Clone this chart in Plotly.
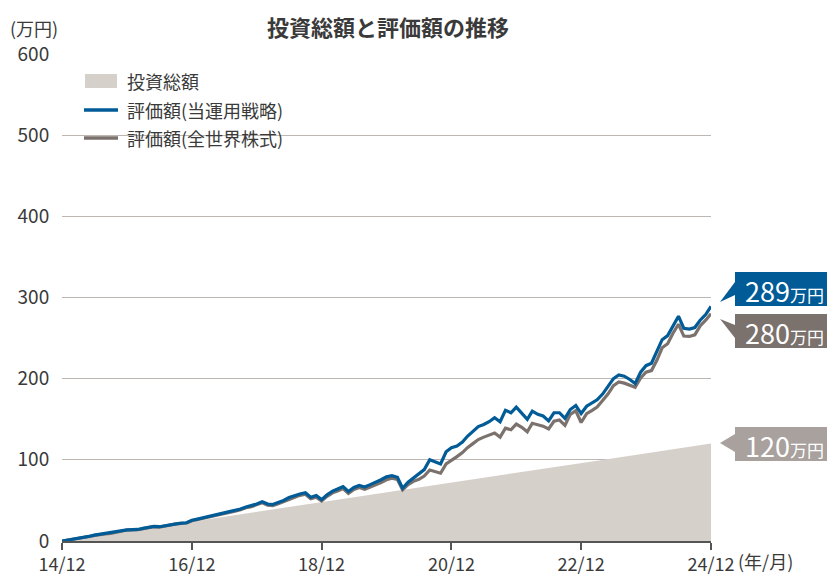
import pandas as pd
import plotly.graph_objects as go

# monthly points 2014/12 .. 2024/12
months = pd.date_range("2014-12-01", "2024-12-01", freq="MS")

# 投資総額 (万円), 1万円/月
invest = list(range(0, 121))

# 評価額(当運用戦略)
strategy = [
    0, 1.0, 2.1, 3.2, 4.5, 5.6, 7.2, 8.3, 8.9, 9.6, 11.0, 12.6, 13.8,
    14.0, 14.2, 15.5, 16.8, 17.9, 17.6, 18.9, 20.0, 21.3, 22.0, 22.5, 25.5,
    27.0, 28.5, 30.0, 31.5, 33.0, 34.5, 36.0, 37.5, 39.5, 42.0, 43.5, 45.5,
    48.5, 45.5, 45.0, 47.5, 50.0, 53.5, 56.0, 58.0, 59.5, 54.0, 56.0, 51.0,
    57.0, 61.5, 64.0, 67.0, 61.0, 66.0, 68.5, 66.5, 69.5, 72.0, 75.5, 79.0,
    80.5, 78.5, 65.0, 72.5, 78.0, 83.0, 88.0, 100.0, 97.0, 95.0, 110.0, 115.0,
    117.0, 122.0, 129.0, 135.0, 141.0, 143.5, 147.0, 152.0, 147.0, 161.0, 158.0, 165.0,
    157.0, 150.0, 160.0, 156.0, 154.0, 148.0, 158.0, 158.0, 151.0, 162.0, 167.0, 157.0,
    166.0, 170.0, 174.0, 181.0, 190.0, 200.0, 204.5, 203.0, 199.0, 194.0, 208.0, 216.0,
    219.0, 233.0, 248.0, 253.0, 264.0, 277.0, 262.0, 261.0, 263.0, 272.0, 279.0, 289.0,
]

# 評価額(全世界株式)
world = [
    0, 1.0, 2.1, 3.1, 4.4, 5.5, 7.0, 8.1, 8.6, 9.3, 10.8, 12.3, 13.5,
    13.6, 13.9, 15.2, 16.5, 17.6, 17.2, 18.6, 19.7, 21.0, 21.6, 22.2, 25.0,
    26.4, 27.9, 29.3, 30.8, 32.3, 33.7, 35.2, 36.6, 38.6, 41.0, 42.4, 44.3,
    47.2, 44.2, 43.6, 46.0, 48.4, 51.8, 54.2, 56.2, 57.6, 52.2, 54.0, 49.2,
    55.0, 59.3, 61.6, 64.5, 58.6, 63.4, 65.8, 63.6, 66.4, 68.8, 72.1, 75.4,
    77.5, 75.8, 63.0, 69.5, 73.5, 76.0, 80.0, 87.5, 85.0, 83.5, 95.0, 100.0,
    104.0, 109.0, 115.0, 120.0, 125.0, 128.0, 130.0, 133.0, 128.0, 139.0, 137.0, 144.0,
    140.0, 134.5, 145.0, 143.0, 141.5, 138.0, 147.5, 149.0, 142.5, 156.0, 160.5, 146.0,
    157.0, 161.0, 165.0, 173.0, 181.0, 191.5, 196.0, 194.5, 191.5, 189.5, 201.0, 208.0,
    210.0, 223.0, 238.0, 243.0, 256.0, 267.0, 252.5, 252.0, 254.0, 265.0, 272.0, 280.0,
]

tick_dates = ["2014-12-01", "2016-12-01", "2018-12-01", "2020-12-01", "2022-12-01", "2024-12-01"]
tick_text = ["14/12", "16/12", "18/12", "20/12", "22/12", "24/12"]

legend_names = ["投資総額", "評価額(当運用戦略)", "評価額(全世界株式)"]

FONT = "Noto Sans CJK JP"
TXT = "#3a3a3a"
BLUE = "#005b97"
GRAY = "#7b716d"
BEIGE = "#d6d0ca"
LIGHT = "#a8a19d"

# the page body adds an 8px margin, so lay out in window pixels and shift
OFF = 8
W, H = 835 - OFF, 576 - OFF
L, R, T, B = 62 - OFF, 835 - 711, 54 - OFF, 576 - 541
pw, ph = W - L - R, H - T - B


def px(x):
    return (x - OFF - L) / pw


def py(y):
    return (H - B - (y - OFF)) / ph


fig = go.Figure()
fig.add_trace(go.Scatter(
    x=months, y=invest, name=legend_names[0], mode="lines",
    fill="tozeroy", fillcolor=BEIGE, line=dict(width=0, color=BEIGE),
))
fig.add_trace(go.Scatter(
    x=months, y=world, name=legend_names[2], mode="lines",
    line=dict(color=GRAY, width=3.2),
))
fig.add_trace(go.Scatter(
    x=months, y=strategy, name=legend_names[1], mode="lines",
    line=dict(color=BLUE, width=3.2),
))

shapes = []
annotations = []

# legend drawn by hand: white backing over the grid, symbols, texts
shapes.append(dict(type="rect", xref="paper", yref="paper", layer="between",
                   x0=px(73), x1=px(305), y0=py(152), y1=py(62),
                   fillcolor="white", line=dict(width=0)))
shapes.append(dict(type="rect", xref="paper", yref="paper", layer="above",
                   x0=px(85), x1=px(117), y0=py(88), y1=py(74),
                   fillcolor=BEIGE, line=dict(width=0)))
for yy, col in [(110, BLUE), (138, GRAY)]:
    shapes.append(dict(type="line", xref="paper", yref="paper", layer="above",
                       x0=px(84), x1=px(118), y0=py(yy), y1=py(yy),
                       line=dict(color=col, width=3.5)))
for yy, name in zip([81, 110, 138], legend_names):
    annotations.append(dict(xref="paper", yref="paper", x=px(125), y=py(yy),
                            xanchor="left", yanchor="middle", showarrow=False,
                            text=name, font=dict(family=FONT, size=18, color=TXT)))

# end labels: (value text, colour, box top, box bottom, triangle pts)
labels = [
    ("289", BLUE, 272, 306, [(735, 282), (735, 295), (720, 302)]),
    ("280", GRAY, 314, 348, [(735, 325), (735, 338), (720, 319)]),
    ("120", LIGHT, 427, 461, [(735, 434), (735, 452), (720, 443)]),
]
for txt, col, top, bot, tri in labels:
    shapes.append(dict(type="rect", xref="paper", yref="paper",
                       x0=px(735), x1=px(836), y0=py(bot), y1=py(top),
                       fillcolor=col, line=dict(width=0), layer="above"))
    path = "M " + " L ".join(f"{px(a):.4f},{py(b):.4f}" for a, b in tri) + " Z"
    shapes.append(dict(type="path", xref="paper", yref="paper", path=path,
                       fillcolor=col, line=dict(width=0), layer="above"))
    annotations.append(dict(
        xref="paper", yref="paper", x=px(784), y=py((top + bot) / 2 + 1),
        xanchor="center", yanchor="middle", showarrow=False,
        text=f"<span style='font-size:27px'>{txt}</span><span style='font-size:17px'>万円</span>",
        font=dict(family=FONT, color="white"),
    ))

annotations.append(dict(xref="paper", yref="paper", x=px(8), y=py(28),
                        xanchor="left", yanchor="middle", showarrow=False,
                        text="(万円)", font=dict(family=FONT, size=18, color=TXT)))
annotations.append(dict(xref="paper", yref="paper", x=px(736), y=py(561),
                        xanchor="left", yanchor="middle", showarrow=False,
                        text="(年/月)", font=dict(family=FONT, size=18, color=TXT)))
annotations.append(dict(xref="paper", yref="paper", x=px(388), y=py(8),
                        xanchor="center", yanchor="top", showarrow=False,
                        text="<b>投資総額と評価額の推移</b>",
                        font=dict(family=FONT, size=22, color=TXT)))

fig.update_layout(
    width=W, height=H,
    margin=dict(l=L, r=R, t=T, b=B, autoexpand=False),
    paper_bgcolor="white", plot_bgcolor="white",
    font=dict(family=FONT, color=TXT),
    showlegend=False,
    shapes=shapes,
    annotations=annotations,
)
fig.update_xaxes(
    range=[months[0], months[-1]], tickvals=tick_dates, ticktext=tick_text,
    showgrid=False, showline=True, linecolor="#555", linewidth=1.5,
    ticks="outside", ticklen=7, tickcolor="#555", tickwidth=1.5,
    tickfont=dict(family=FONT, size=18, color=TXT), automargin=False,
)
fig.update_yaxes(
    range=[0, 600], dtick=100, showgrid=True, gridcolor="#bdb7b3", gridwidth=1.2,
    zeroline=False, ticks="outside", ticklen=8, tickcolor="rgba(0,0,0,0)",
    tickfont=dict(family=FONT, size=19, color=TXT), automargin=False,
)

fig.write_html("out.html")
